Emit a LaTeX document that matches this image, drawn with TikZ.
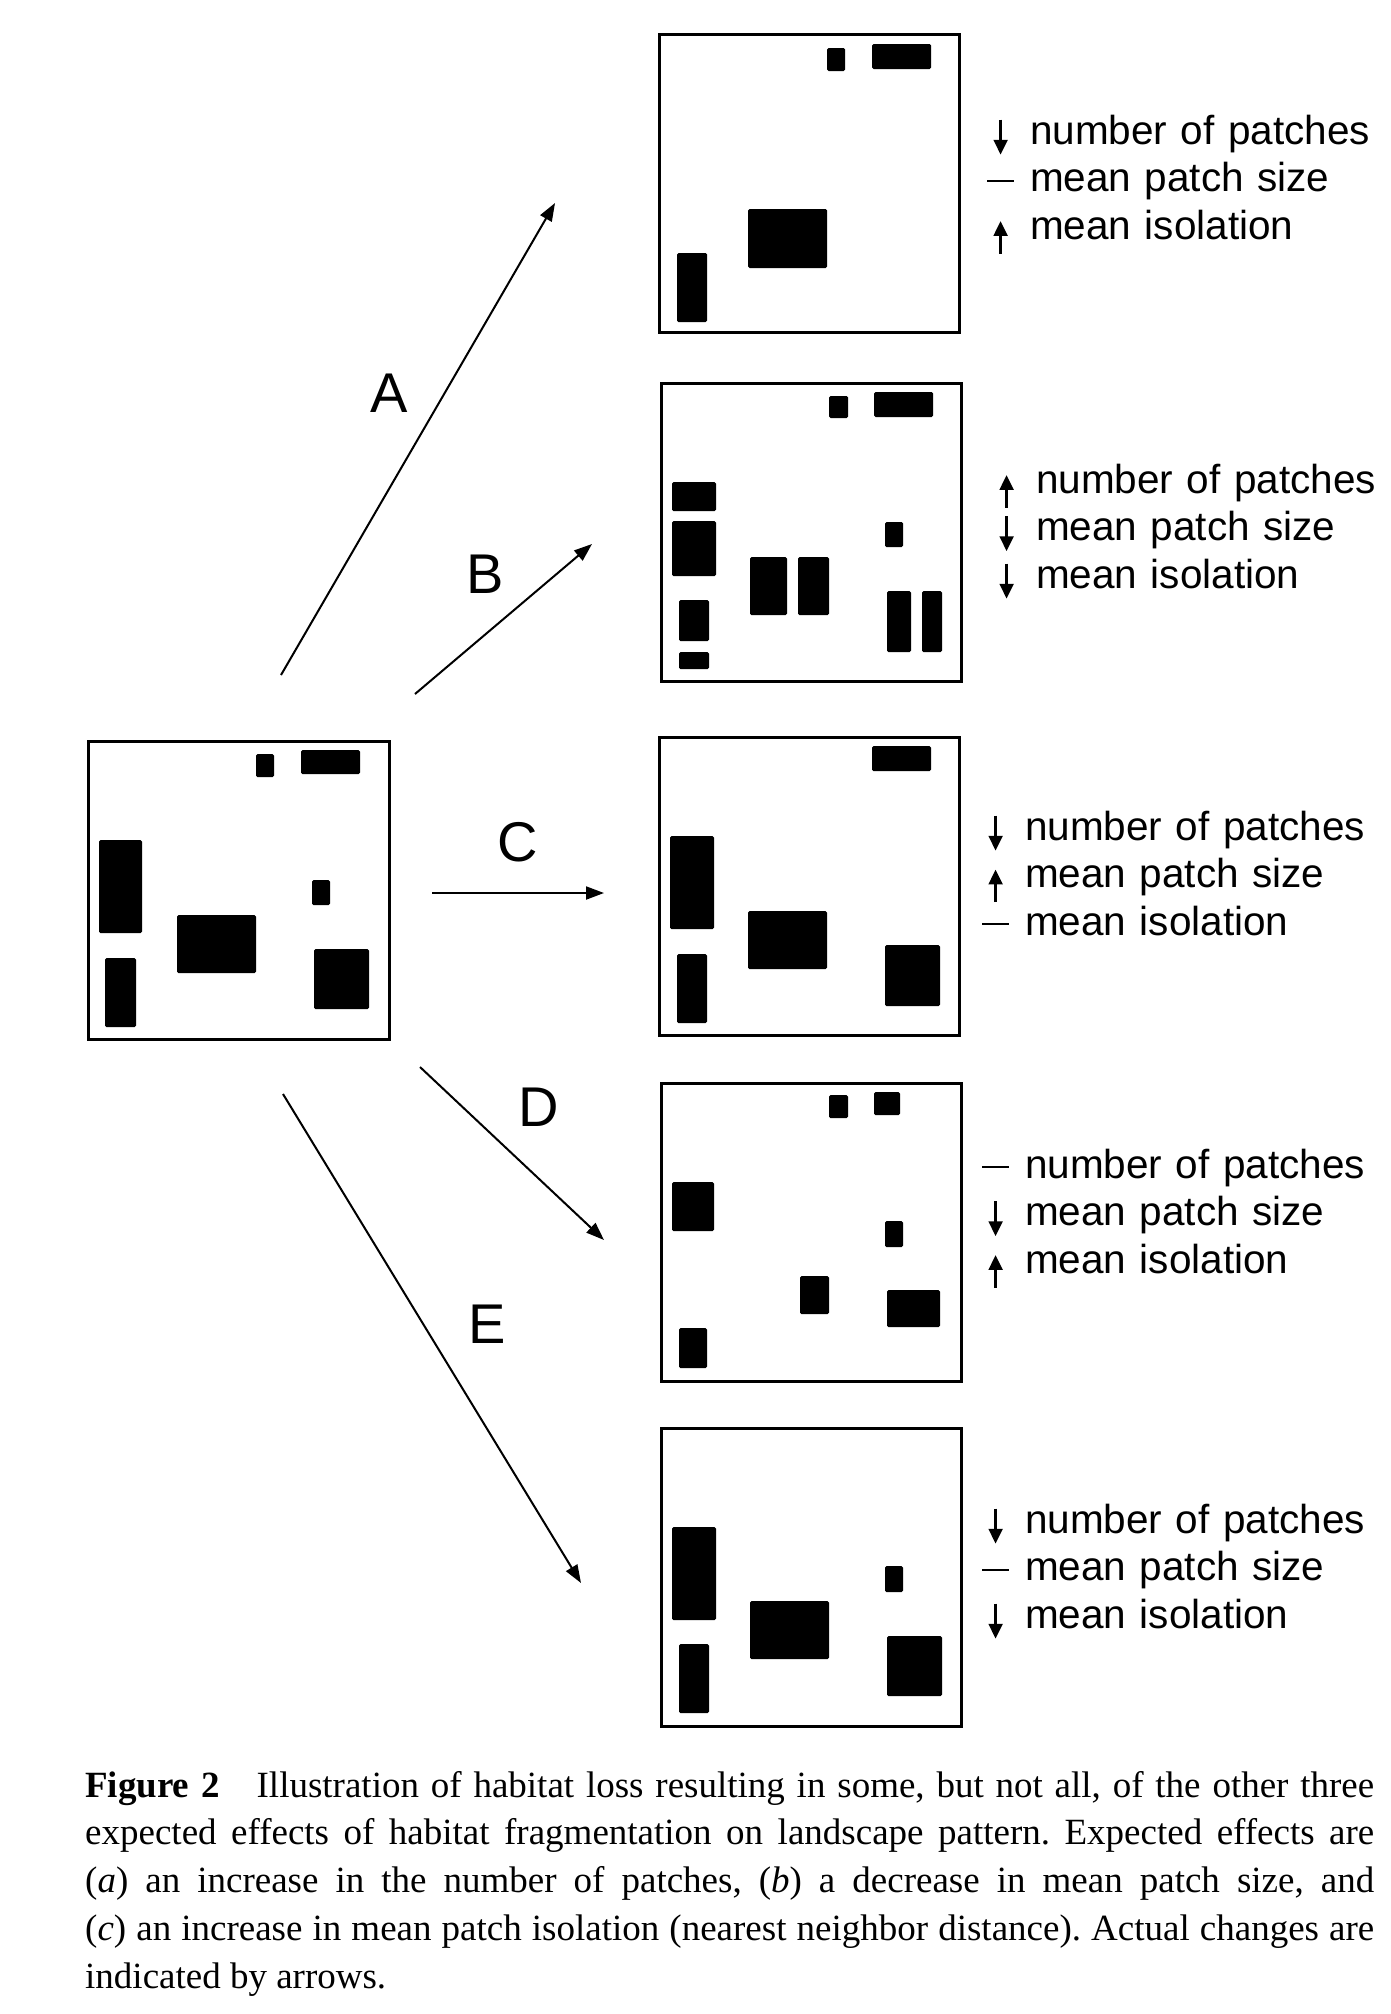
\documentclass[tikz,border=0pt]{standalone}
\usepackage{fontspec}
\setmainfont{Liberation Serif}
\newfontfamily\arialfont{Liberation Sans}
\usetikzlibrary{arrows.meta}
\usetikzlibrary{positioning}

\newcommand{\dnarr}{\makebox[0.66em]{\tikz[baseline=0pt]\draw[line width=0.055em,
  -{Triangle[length=0.36em,width=0.34em]}] (0pt,0.6em) -- (0pt,-0.26em);}}
\newcommand{\uparr}{\makebox[0.66em]{\tikz[baseline=0pt]\draw[line width=0.055em,
  -{Triangle[length=0.36em,width=0.34em]}] (0pt,-0.36em) -- (0pt,0.44em);}}
\newcommand{\noarr}{\makebox[0.66em]{\rule[0.24em]{0.66em}{0.05em}}}

\begin{document}
\begin{tikzpicture}[
  x=1pt, y=-1pt,
  landbox/.style={draw, line width=3pt, inner sep=0pt},
  patch/.style={fill=black, rounded corners=1.5pt},
  change/.style={->, line width=2pt},
  letter/.style={font=\arialfont\fontsize{56}{60}\selectfont, inner sep=0pt},
  legend/.style={anchor=base west, inner sep=0pt, text width=400pt, align=left,
    font=\arialfont\fontsize{40.5}{47.5}\selectfont},
]
\tikzset{>={Triangle[length=18pt, width=13pt]}}
\useasboundingbox (0,0) rectangle (1391,2014);

  % Landscapes
  \node[landbox, minimum width=301pt, minimum height=298pt] (land0) at (238.5,890) {};
  \node[landbox, minimum width=300pt, minimum height=298pt] (land1) at (809,183.5) {};
  \node[landbox, minimum width=300pt, minimum height=298pt] (land2) at (811,532) {};
  \node[landbox, minimum width=300pt, minimum height=298pt] (land3) at (809,886) {};
  \node[landbox, minimum width=300pt, minimum height=298pt] (land4) at (811,1232) {};
  \node[landbox, minimum width=300pt, minimum height=298pt] (land5) at (811,1577.5) {};

  % Patches
  \fill[patch] (256,754) rectangle (274,777);
  \fill[patch] (301,750) rectangle (360,774);
  \fill[patch] (99,840) rectangle (142,933);
  \fill[patch] (105,958) rectangle (136,1027);
  \fill[patch] (177,915) rectangle (256,973);
  \fill[patch] (312,880) rectangle (330,905);
  \fill[patch] (314,949) rectangle (369,1009);

  \fill[patch] (827,48) rectangle (845,71);
  \fill[patch] (872,44) rectangle (931,69);
  \fill[patch] (748,209) rectangle (827,268);
  \fill[patch] (677,253) rectangle (707,322);

  \fill[patch] (829,396) rectangle (848,418);
  \fill[patch] (874,392) rectangle (933,417);
  \fill[patch] (672,482) rectangle (716,511);
  \fill[patch] (672,521) rectangle (716,576);
  \fill[patch] (679,600) rectangle (709,641);
  \fill[patch] (679,652) rectangle (709,669);
  \fill[patch] (750,557) rectangle (787,615);
  \fill[patch] (798,557) rectangle (829,615);
  \fill[patch] (885,522) rectangle (903,547);
  \fill[patch] (887,591) rectangle (911,652);
  \fill[patch] (922,591) rectangle (942,652);

  \fill[patch] (872,746) rectangle (931,771);
  \fill[patch] (670,836) rectangle (714,929);
  \fill[patch] (677,954) rectangle (707,1023);
  \fill[patch] (748,911) rectangle (827,969);
  \fill[patch] (885,945) rectangle (940,1006);

  \fill[patch] (829,1095) rectangle (848,1118);
  \fill[patch] (874,1092) rectangle (900,1115);
  \fill[patch] (672,1182) rectangle (714,1231);
  \fill[patch] (885,1221) rectangle (903,1247);
  \fill[patch] (800,1276) rectangle (829,1314);
  \fill[patch] (887,1290) rectangle (940,1327);
  \fill[patch] (679,1328) rectangle (707,1368);

  \fill[patch] (672,1527) rectangle (716,1620);
  \fill[patch] (679,1644) rectangle (709,1713);
  \fill[patch] (750,1601) rectangle (829,1659);
  \fill[patch] (885,1566) rectangle (903,1592);
  \fill[patch] (887,1636) rectangle (942,1696);

  % Arrow ends
  \coordinate (a0) at (281,675);   \coordinate (a1) at (555,203);
  \coordinate (b0) at (415,694);   \coordinate (b1) at (592,544);
  \coordinate (c0) at (432,893);   \coordinate (c1) at (604,893);
  \coordinate (d0) at (420,1067);  \coordinate (d1) at (604,1240);
  \coordinate (e0) at (283,1094);  \coordinate (e1) at (581,1583);

  % Arrows
  \draw[change] (a0) -- (a1);
  \draw[change] (b0) -- (b1);
  \draw[change] (c0) -- (c1);
  \draw[change] (d0) -- (d1);
  \draw[change] (e0) -- (e1);

  \node[letter] (la) at (389,393)  {A};
  \node[letter] (lb) at (485,574)  {B};
  \node[letter] (lc) at (518,842)  {C};
  \node[letter] (ld) at (539,1107) {D};
  \node[letter] (le) at (487,1324) {E};

  % Legends
  \node[legend] (leg1) at (987,144)
    {\dnarr\hspace{0.4em}number of patches\\ \noarr\hspace{0.4em}mean patch size\\ \uparr\hspace{0.4em}mean isolation};
  \node[legend] (leg2) at (993,493)
    {\uparr\hspace{0.4em}number of patches\\ \dnarr\hspace{0.4em}mean patch size\\ \dnarr\hspace{0.4em}mean isolation};
  \node[legend] (leg3) at (982,840)
    {\dnarr\hspace{0.4em}number of patches\\ \uparr\hspace{0.4em}mean patch size\\ \noarr\hspace{0.4em}mean isolation};
  \node[legend] (leg4) at (982,1178)
    {\noarr\hspace{0.4em}number of patches\\ \dnarr\hspace{0.4em}mean patch size\\ \uparr\hspace{0.4em}mean isolation};
  \node[legend] (leg5) at (982,1533)
    {\dnarr\hspace{0.4em}number of patches\\ \noarr\hspace{0.4em}mean patch size\\ \dnarr\hspace{0.4em}mean isolation};

  % Caption
  \node[anchor=base west, inner sep=0pt, text width=1289pt, align=justify,
        font=\fontsize{37}{47.8}\selectfont\frenchspacing] (cap) at (85,1797)
    {\textbf{Figure 2}\quad Illustration of habitat loss resulting in some, but not all, of the other three\linebreak
     expected effects of habitat fragmentation on landscape pattern. Expected effects are\linebreak
     (\textit{a}) an increase in the number of patches, (\textit{b}) a decrease in mean patch size, and\linebreak
     (\textit{c}) an increase in mean patch isolation (nearest neighbor distance). Actual changes are\linebreak
     indicated by arrows.};

\end{tikzpicture}
\end{document}
